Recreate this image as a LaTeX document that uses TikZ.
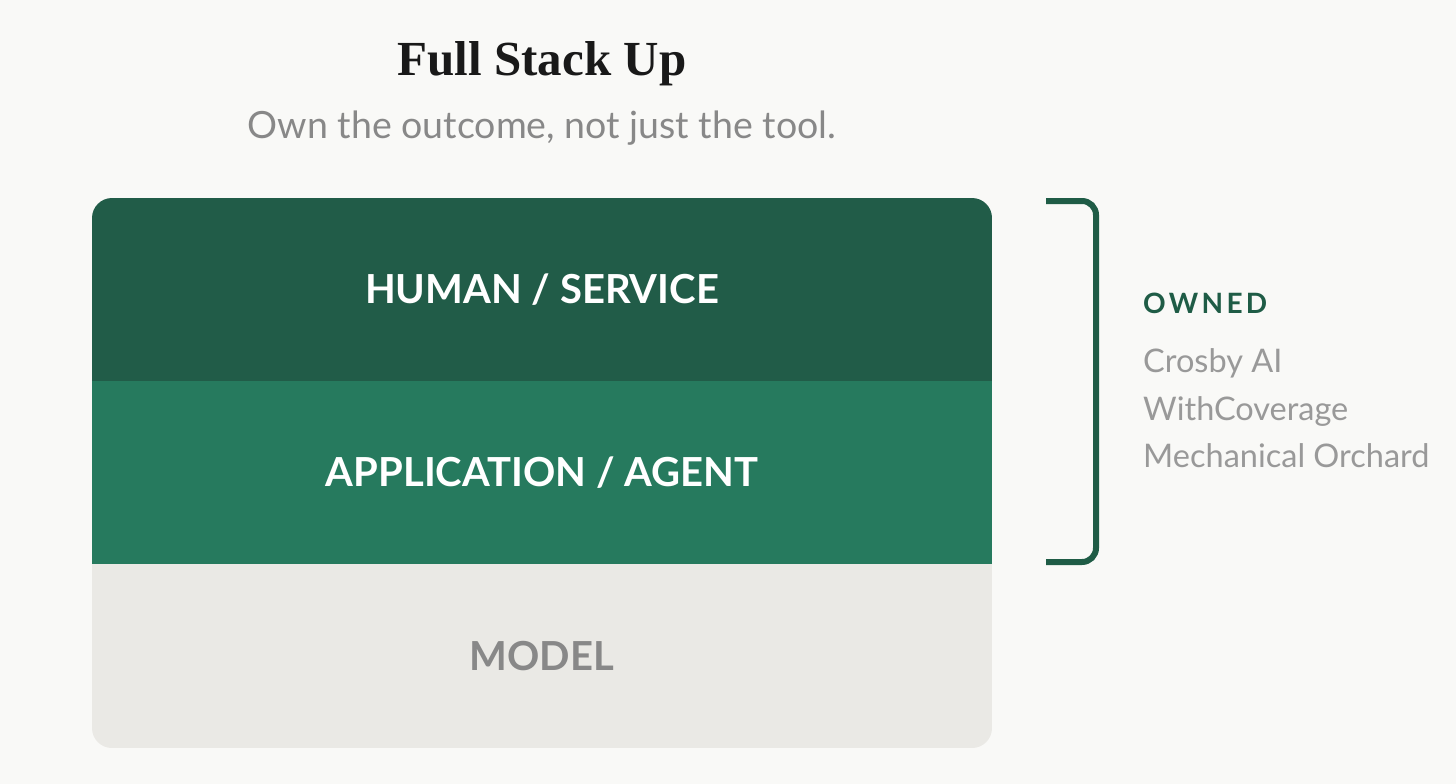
\documentclass[tikz,border=0pt]{standalone}
\usepackage{fontspec}
\setmainfont{Lato}
\newfontfamily\titlefont{Liberation Serif}
\definecolor{bgc}{HTML}{F9F9F7}
\definecolor{darkg}{HTML}{215C48}
\definecolor{midg}{HTML}{267A5E}
\definecolor{lightl}{HTML}{EAE9E5}
\definecolor{graytxt}{HTML}{888888}
\definecolor{lgraytxt}{HTML}{999999}
\definecolor{brk}{HTML}{1F5C46}
\tikzset{
  layerbox/.style={minimum width=900pt, minimum height=183.5pt, inner sep=0pt, draw=none, font=\fontsize{40}{42}\selectfont\bfseries},
  listtxt/.style={anchor=base west, inner sep=0pt, text=lgraytxt, font=\fontsize{32.5}{34}\selectfont},
}
\begin{document}
\begin{tikzpicture}[x=1pt,y=-1pt]
\fill[bgc] (0,0) rectangle (1456,784);
\useasboundingbox (0,0) rectangle (1456,784);
\node[anchor=base, inner sep=0pt, text=black!90] (title) at (542,75) {\titlefont\fontsize{49}{52}\selectfont\bfseries Full Stack Up};
\node[anchor=base, inner sep=0pt, text=graytxt] (sub) at (542,138) {\fontsize{37.5}{40}\selectfont Own the outcome, not just the tool.};
\begin{scope}
\clip[rounded corners=20pt] (92,198) rectangle (992,748);
\node[layerbox, fill=darkg, text=white] (human) at (542,289.5) {HUMAN / SERVICE};
\node[layerbox, fill=midg, text=white] (app) at (542,472.5) {APPLICATION / AGENT};
\node[layerbox, fill=lightl, text=graytxt] (model) at (542,656) {MODEL};
\end{scope}
\coordinate (bt) at (1046,201);
\coordinate (bb) at (1046,562);
\draw[brk, line width=6pt, rounded corners=14pt] (bt) -- (1096,201) -- (1096,562) -- (bb);
\node[anchor=base west, inner sep=0pt, text=brk] (owned) at (1143,313) {\fontsize{28}{30}\selectfont\bfseries\addfontfeature{LetterSpace=12}OWNED};
\node[listtxt] (c1) at (1143,372) {Crosby AI};
\node[listtxt] (c2) at (1143,420) {WithCoverage};
\node[listtxt] (c3) at (1143,467) {Mechanical Orchard};
\end{tikzpicture}
\end{document}
